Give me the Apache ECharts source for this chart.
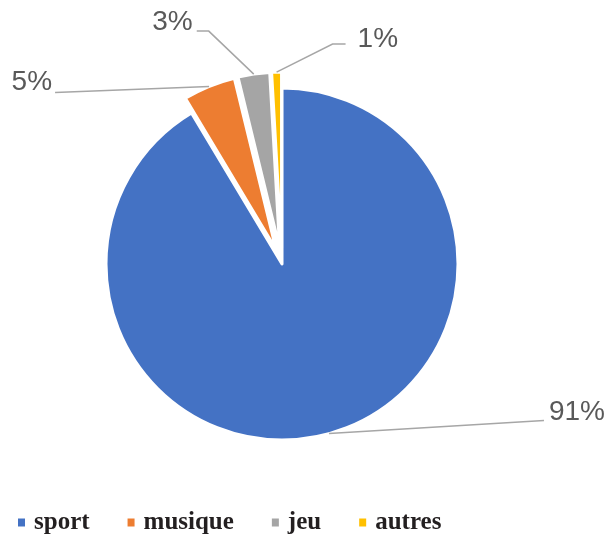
<!DOCTYPE html>
<html><head><meta charset="utf-8">
<script src="https://cdn.jsdelivr.net/npm/echarts@6/dist/echarts.min.js"></script>
<style>html,body{margin:0;padding:0;background:#fff}#c{width:609px;height:540px}</style>
</head><body><div id="c"></div>
<script>
const categories = ['sport', 'musique', 'jeu', 'autres'];
const values = [91.4, 4.8, 2.9, 0.9];
const colors = ['#4472C4', '#ED7D31', '#A5A5A5', '#FFC000'];
const exploded = [false, true, true, true];

const chart = echarts.init(document.getElementById('c'), null, {renderer: 'canvas'});

const CENTER = [282, 264];
const EXPLODE = 16;
// Excel-like leader line shapes, as offsets from the library-computed anchor point
const lineShape = [
  {d1: [0, 0], d2: [215, -13], align: 'left', gap: 5, dy: -8},
  {d1: [0, 0], d2: [-154, 6], align: 'right', gap: 3, dy: -10},
  {d1: [-45, -43], d2: [-57, -43], align: 'right', gap: 4, dy: -9},
  {d1: [56, -28], d2: [69, -28], align: 'left', gap: 12, dy: -5}
];

const pieBase = {
  type: 'pie',
  center: CENTER,
  radius: 176,
  startAngle: 90,
  clockwise: true,
  percentPrecision: 0,
  emphasis: {disabled: true}
};

chart.setOption({
  animation: false,
  legend: {
    left: 11, bottom: 0, itemWidth: 9, itemHeight: 10, itemGap: 36,
    icon: 'rect',
    data: categories,
    textStyle: {fontFamily: 'Liberation Serif', fontWeight: 'bold', fontSize: 25, color: '#231F20', padding: [0, 0, 0, 3]}
  },
  series: [
    Object.assign({}, pieBase, {
      name: 'slices',
      selectedMode: 'multiple',
      selectedOffset: EXPLODE,
      itemStyle: {borderColor: '#fff', borderWidth: 3},
      select: {itemStyle: {borderColor: '#fff', borderWidth: 3}},
      label: {show: false},
      labelLine: {show: false},
      data: categories.map((c, i) => ({
        name: c, value: values[i], selected: exploded[i], itemStyle: {color: colors[i]}
      }))
    }),
    Object.assign({}, pieBase, {
      name: 'labels',
      silent: true,
      z: 3,
      avoidLabelOverlap: false,
      itemStyle: {color: 'rgba(0,0,0,0)', borderWidth: 0},
      label: {formatter: '{d}%', fontFamily: 'Liberation Sans', fontSize: 28, color: '#595959'},
      labelLine: {lineStyle: {color: '#A6A6A6', width: 1.5}, length: 20, length2: 20},
      labelLayout: function (p) {
        const s = lineShape[p.dataIndex];
        const q0 = p.labelLinePoints[0];
        const vx = q0[0] - CENTER[0], vy = q0[1] - CENTER[1];
        const len = Math.sqrt(vx * vx + vy * vy) || 1;
        const off = exploded[p.dataIndex] ? EXPLODE : 0;
        const a = [q0[0] + vx / len * off, q0[1] + vy / len * off];
        const p1 = [a[0] + s.d1[0], a[1] + s.d1[1]];
        const p2 = [a[0] + s.d2[0], a[1] + s.d2[1]];
        const gap = s.align === 'left' ? s.gap : -s.gap;
        return {
          x: p2[0] + gap, y: p2[1] + s.dy, align: s.align, verticalAlign: 'middle',
          labelLinePoints: [a, p1, p2]
        };
      },
      data: categories.map((c, i) => ({name: c, value: values[i]}))
    })
  ]
});
</script></body></html>
